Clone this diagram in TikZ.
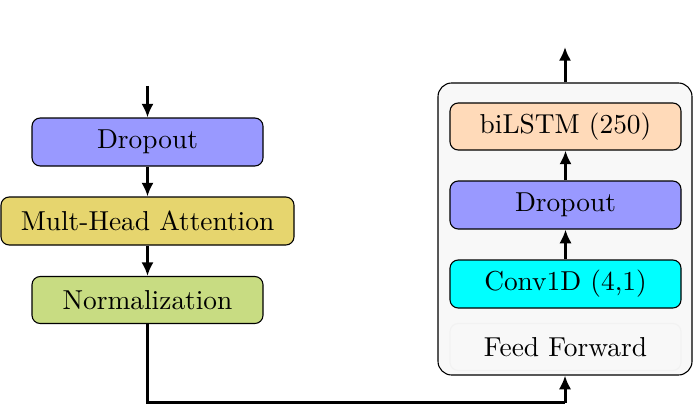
\documentclass[tikz,border=0pt]{standalone}
\usetikzlibrary{arrows.meta}
\definecolor{cdrop}{RGB}{153,153,255}
\definecolor{cmha}{RGB}{230,213,110}
\definecolor{cnorm}{RGB}{200,220,130}
\definecolor{clstm}{RGB}{255,218,185}
\definecolor{cconv}{RGB}{0,255,255}
\definecolor{cbg}{RGB}{248,248,248}
\begin{document}
\begin{tikzpicture}[x=0.365pt,y=-0.365pt,
  blk/.style={draw=black, line width=0.4pt, rounded corners=3pt, inner sep=0pt, font=\fontsize{10}{12}\selectfont},
  conn/.style={line width=1.1pt, -{Latex[length=5pt,width=4.5pt]}},
  plain/.style={line width=1.1pt}]
\useasboundingbox (0,0) rectangle (693,404);
% left column
\node[blk, fill=cdrop, minimum width=231*0.365pt, minimum height=48*0.365pt] (d1) at (147.5,142) {Dropout};
\node[blk, fill=cmha, minimum width=293*0.365pt, minimum height=48*0.365pt] (mha) at (147.5,221) {Mult-Head Attention};
\node[blk, fill=cnorm, minimum width=231*0.365pt, minimum height=47*0.365pt] (nrm) at (147.5,300) {Normalization};
\coordinate (in) at (147.5,86);
\draw[conn] (in) -- (d1.north);
\draw[conn] (d1.south) -- (mha.north);
\draw[conn] (mha.south) -- (nrm.north);
% right container
\node[draw=black, line width=0.4pt, fill=cbg, rounded corners=5pt, minimum width=254*0.365pt, minimum height=292*0.365pt] (ff) at (565,229) {};
\node[blk, fill=clstm, minimum width=231*0.365pt, minimum height=47*0.365pt] (lstm) at (565.5,126.5) {biLSTM (250)};
\node[blk, fill=cdrop, minimum width=231*0.365pt, minimum height=48*0.365pt] (d2) at (565.5,205) {Dropout};
\node[blk, fill=cconv, minimum width=231*0.365pt, minimum height=48*0.365pt] (conv) at (565.5,284) {Conv1D (4,1)};
\node[blk, draw=black!5, fill=cbg, minimum width=231*0.365pt, minimum height=47*0.365pt] (fft) at (565.5,347) {Feed Forward};
\draw[conn] (conv.north) -- (d2.south);
\draw[conn] (d2.north) -- (lstm.south);
\coordinate (out) at (565,47);
\draw[conn] (ff.north) -- (out);
\coordinate (c1) at (147.5,402.5);
\coordinate (c2) at (565,402.5);
\draw[plain] (nrm.south) -- (c1) -- (c2);
\draw[conn] (c2) -- (ff.south);
\end{tikzpicture}
\end{document}
